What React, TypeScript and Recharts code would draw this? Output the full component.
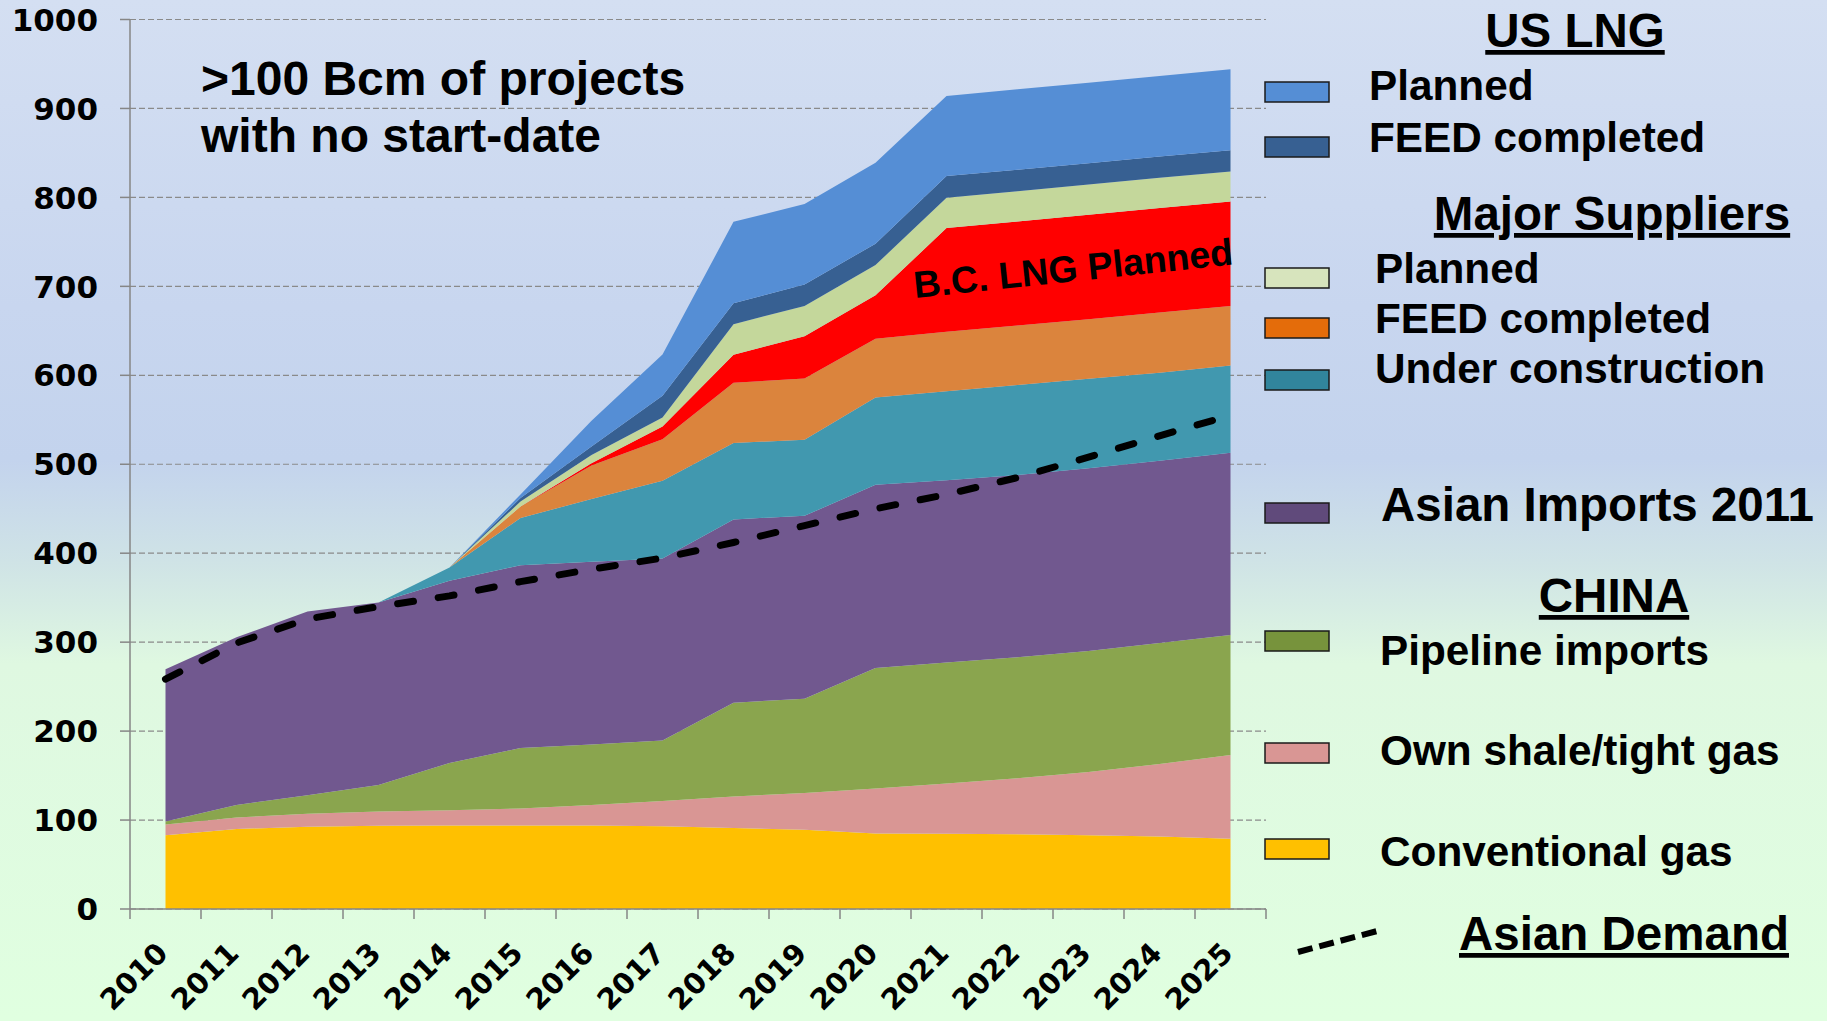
import React from "react";
import {
  Area,
  CartesianGrid,
  ComposedChart,
  Line,
  XAxis,
  YAxis,
} from "recharts";

const years = [2010, 2011, 2012, 2013, 2014, 2015, 2016, 2017, 2018, 2019, 2020, 2021, 2022, 2023, 2024, 2025];

// China
const conventional = [83, 90, 92.5, 93.5, 94, 94, 94, 93, 91, 89, 85, 84.5, 84, 83, 81.5, 79];
const shale = [12, 13, 14.5, 16, 17, 19, 23, 28.5, 35.5, 41.5, 50.5, 56.5, 63, 71, 81.5, 94];
const pipeline = [3.5, 14, 21, 30, 53, 68, 68, 68, 105.5, 106, 135.5, 136, 136, 136, 136, 135];
const asianImports = [171, 188.5, 206.5, 205, 205, 205.5, 205.5, 204.5, 206, 205.5, 206, 205, 205, 205.5, 205, 205];
// Major suppliers
const underConstruction = [0, 0, 0, 0, 15, 53, 70.5, 87.5, 86, 85.5, 98, 100, 101, 100.5, 99, 98];
const majorFeed = [0, 0, 0, 0, 0, 13, 37.5, 46.5, 67.5, 69, 66, 67, 67, 67, 67.5, 67];
const bcLng = [0, 0, 0, 0, 0, 0, 2.5, 14.5, 31.5, 47.5, 49, 116.5, 117, 117.5, 117.5, 117.5];
const majorPlanned = [0, 0, 0, 0, 0, 5.5, 9.5, 10, 34.5, 34, 34, 34, 34, 34, 34, 33.5];
// US LNG
const usFeed = [0, 0, 0, 0, 0, 4, 9.5, 24.5, 23.5, 24, 24, 24.5, 24, 24, 24, 24];
const usPlanned = [0, 0, 0, 0, 0, 4, 29, 46.5, 91.5, 90.5, 91, 90, 90.5, 90.5, 90.5, 91];

const demand = [258.5, 299, 326, 340, 352, 368, 382, 394.5, 412, 431, 450, 466, 485, 508, 532, 555];

const yTicks = [0, 100, 200, 300, 400, 500, 600, 700, 800, 900, 1000];
// band edges (for tick marks) and years (for labels)
const xTicks = [2009.5, ...years.flatMap((y) => [y, y + 0.5])];

const rows = years.map((year, i) => ({
  year,
  conventional: conventional[i],
  shale: shale[i],
  pipeline: pipeline[i],
  asianImports: asianImports[i],
  underConstruction: underConstruction[i],
  majorFeed: majorFeed[i],
  bcLng: bcLng[i],
  majorPlanned: majorPlanned[i],
  usFeed: usFeed[i],
  usPlanned: usPlanned[i],
  demand: demand[i],
}));

// stack order bottom -> top
const series = [
  { key: "conventional", name: "Conventional gas", fill: "#ffc000", swatch: "#ffc000" },
  { key: "shale", name: "Own shale/tight gas", fill: "#d99694", swatch: "#d99694" },
  { key: "pipeline", name: "Pipeline imports", fill: "#8aa54e", swatch: "#77933c" },
  { key: "asianImports", name: "Asian Imports 2011", fill: "#71588f", swatch: "#604a7b" },
  { key: "underConstruction", name: "Under construction", fill: "#4198af", swatch: "#31859c" },
  { key: "majorFeed", name: "FEED completed", fill: "#db843d", swatch: "#e46c0a" },
  { key: "bcLng", name: "B.C. LNG Planned", fill: "#ff0000", swatch: "#ff0000" },
  { key: "majorPlanned", name: "Planned", fill: "#c4d79b", swatch: "#d7e4bd" },
  { key: "usFeed", name: "FEED completed", fill: "#376092", swatch: "#376092" },
  { key: "usPlanned", name: "Planned", fill: "#558ed5", swatch: "#558ed5" },
];

const AXIS = "#868686";
const LEGEND_FONT = "'Liberation Sans', Arial, sans-serif";
const TICK_FONT = "'DejaVu Sans', Verdana, sans-serif";

const XTick = (props: any) => {
  const { x, y, payload } = props;
  const v = payload.value;
  if (v % 1 !== 0) {
    return <line x1={x} x2={x} y1={y} y2={y + 10} stroke={AXIS} strokeWidth={1.5} />;
  }
  const tx = x + 4;
  const ty = y + 46;
  return (
    <text
      x={tx}
      y={ty}
      transform={`rotate(-45 ${tx} ${ty})`}
      textAnchor="end"
      fontFamily={TICK_FONT}
      fontWeight="bold"
      fontSize={29}
      fill="#000"
    >
      {v}
    </text>
  );
};

const YTick = (props: any) => {
  const { x, y, payload } = props;
  return (
    <text x={x} y={y} dy="0.36em" textAnchor="end" fontFamily={TICK_FONT} fontWeight="bold" fontSize={31} fill="#000">
      {payload.value}
    </text>
  );
};

const byKey = (k: string) => series.find((s) => s.key === k)!;

// legend rows: swatch top / text baseline
const legendItems = [
  { key: "usPlanned", box: 82, base: 100, tx: 1369 },
  { key: "usFeed", box: 137, base: 152, tx: 1369 },
  { key: "majorPlanned", box: 268, base: 283, tx: 1375 },
  { key: "majorFeed", box: 318, base: 333, tx: 1375 },
  { key: "underConstruction", box: 370, base: 383, tx: 1375 },
  { key: "asianImports", box: 503, base: 521, tx: 1381, big: true },
  { key: "pipeline", box: 631, base: 665, tx: 1380 },
  { key: "shale", box: 743, base: 765, tx: 1380 },
  { key: "conventional", box: 839, base: 866, tx: 1380 },
];

const headers = [
  { text: "US LNG", cx: 1575, base: 47 },
  { text: "Major Suppliers", cx: 1612, base: 230 },
  { text: "CHINA", cx: 1614, base: 612 },
  { text: "Asian Demand", cx: 1624, base: 950 },
];

const Overlay = () => (
  <svg width={1827} height={1021} style={{ position: "absolute", left: 0, top: 0, pointerEvents: "none" }}>
    <g fontFamily={LEGEND_FONT} fontWeight="bold" fill="#000">
      <text x={201} y={95} fontSize={48}>
        &gt;100 Bcm of projects
      </text>
      <text x={201} y={152} fontSize={48}>
        with no start-date
      </text>
      <text x={915} y={298} fontSize={37.5} transform="rotate(-6 915 298)">
        B.C. LNG Planned
      </text>
      {headers.map((h) => (
        <text key={h.text} x={h.cx} y={h.base} fontSize={47.5} textAnchor="middle" style={{ textDecoration: "underline" }}>
          {h.text}
        </text>
      ))}
      {legendItems.map((it) => {
        const s = byKey(it.key);
        return (
          <g key={it.key}>
            <rect x={1265} y={it.box} width={64} height={20} fill={s.swatch} stroke="#1a1a1a" strokeWidth={1.5} />
            <text x={it.tx} y={it.base} fontSize={it.big ? 47.5 : 42.3}>
              {s.name}
            </text>
          </g>
        );
      })}
      <line x1={1298} y1={952} x2={1381} y2={930} stroke="#000" strokeWidth={6} strokeDasharray="15 7" />
    </g>
  </svg>
);

export default function App() {
  return (
    <div
      style={{
        position: "absolute",
        left: 0,
        top: 0,
        width: 1827,
        height: 1021,
        background:
          "linear-gradient(180deg, #d4dff2 0%, #c8d6ef 30%, #c3d3ed 45%, #cfe3e6 55%, #dff8e1 65%, #e0ffe0 100%)",
      }}
    >
      <ComposedChart width={1827} height={1021} data={rows} margin={{ top: 19.5, right: 561, bottom: 0, left: 0 }}>
        <CartesianGrid vertical={false} stroke="#8a8a8a" strokeDasharray="6 3" strokeWidth={1.2} />
        <XAxis
          dataKey="year"
          type="number"
          domain={[2009.5, 2025.5]}
          ticks={xTicks}
          interval={0}
          height={112}
          tickLine={false}
          tickSize={0}
          tickMargin={0}
          axisLine={{ stroke: AXIS, strokeWidth: 1.5 }}
          tick={(p: any) => <XTick {...p} />}
        />
        <YAxis
          type="number"
          domain={[0, 1000]}
          ticks={yTicks}
          interval={0}
          width={130}
          tickSize={10}
          tickMargin={22}
          axisLine={{ stroke: AXIS, strokeWidth: 1.5 }}
          tickLine={{ stroke: AXIS, strokeWidth: 1.5 }}
          tick={(p: any) => <YTick {...p} />}
        />
        {series.map((s) => (
          <Area
            key={s.key}
            dataKey={s.key}
            name={s.name}
            stackId="supply"
            type="linear"
            fill={s.fill}
            fillOpacity={1}
            stroke="none"
            dot={false}
            activeDot={false}
            isAnimationActive={false}
          />
        ))}
        <Line
          dataKey="demand"
          name="Asian Demand"
          type="linear"
          stroke="#000"
          strokeWidth={7}
          strokeDasharray="16 25"
          strokeLinecap="round"
          dot={false}
          activeDot={false}
          isAnimationActive={false}
        />
      </ComposedChart>
      <Overlay />
    </div>
  );
}
